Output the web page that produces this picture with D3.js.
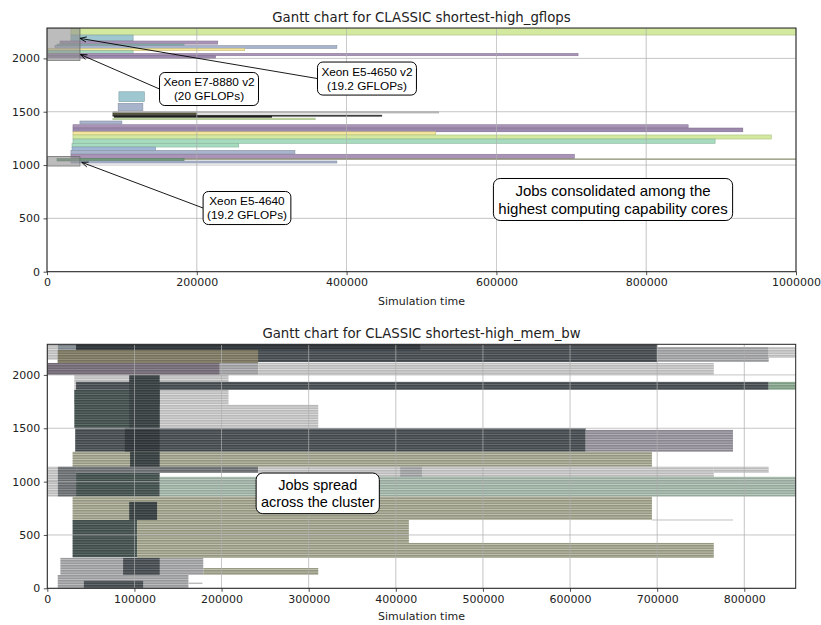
<!DOCTYPE html>
<html>
<head>
<meta charset="utf-8">
<script src="https://cdn.jsdelivr.net/npm/d3@7"></script>
<style>
  body { margin: 0; background: #fff; }
  svg { display: block; }
</style>
</head>
<body>
<svg id="chart" width="821" height="625"></svg>
<script>
// ---------------- Panel 1: shortest-high_gflops ----------------
// one entry per job block: start / end time, lowest / highest core, colour key
const gfStart  = [32000, 32000, 17400, 13400, 10700, 1300, 1300, 1300, 1300,
                  96000, 95000, 88000, 88000, 88000, 90000, 88000, 44000,
                  34700, 34700, 34700, 34700, 34700, 33400, 33400, 32000, 32000, 32000, 13400, 32000];
const gfEnd    = [1010000, 115000, 228000, 183000, 387000, 264000, 115000, 709000, 225000,
                  130000, 128000, 523000, 200000, 447000, 300000, 358000, 100000,
                  856000, 929000, 519000, 967000, 892000, 256000, 145000, 331000, 704000, 1010000, 183000, 387000];
const gfCoreLo = [2219, 2163, 2134, 2120, 2094, 2072, 2047, 2025, 2001,
                  1594, 1507, 1488, 1468, 1458, 1448, 1425, 1385,
                  1350, 1312, 1282, 1244, 1204, 1169, 1138, 1103, 1060, 1052, 1038, 1019];
const gfCoreHi = [2285, 2219, 2163, 2134, 2120, 2094, 2072, 2047, 2025,
                  1687, 1579, 1500, 1488, 1468, 1458, 1440, 1413,
                  1378, 1347, 1312, 1282, 1244, 1204, 1169, 1138, 1101, 1058, 1060, 1038];
const gfKind   = ["lime", "lightblue", "purple", "teal", "bluegray", "yellow", "mint", "purple", "purple2",
                  "lightblue", "bluegray", "lightgray", "olivedark", "dark", "black", "lightgreen", "bluegray",
                  "purple", "purple2", "yellow", "lime", "mint", "mint", "blue", "bluegray", "purple", "oliveline", "green", "bluegray"];

// highlighted node groups (start, end, core range)
const nodeStart = [0, 0];
const nodeEnd   = [44000, 44000];
const nodeLo    = [1982, 991];
const nodeHi    = [2285, 1079];

// ---------------- Panel 2: shortest-high_mem_bw ----------------
const bwStart = [0, 12000, 33000, 33000, 12000, 700000, 828000, 0, 198000, 242000,
                 31000, 33000, 828000, 31000, 129000, 94000, 32000, 618000, 89000,
                 29000, 95000, 0, 12000, 33000, 242000, 765000, 405000, 129000, 33000, 405000,
                 29000, 94000, 694000, 29000, 103000, 103000, 15000, 87000, 179000, 12000, 42000, 162000];
const bwEnd   = [12000, 33000, 700000, 428000, 242000, 828000, 859000, 198000, 242000, 765000,
                 208000, 828000, 859000, 129000, 311000, 129000, 618000, 787000, 129000,
                 694000, 129000, 12000, 33000, 242000, 765000, 828000, 430000, 859000, 129000, 527000,
                 694000, 126000, 787000, 103000, 415000, 765000, 179000, 129000, 311000, 162000, 110000, 178000];
const bwLo    = [2140, 1999, 2120, 2233, 2110, 2122, 2160, 1999, 1999, 1999,
                 1720, 1860, 1860, 1503, 1503, 1503, 1280, 1280, 1280,
                 1138, 1138, 860, 860, 1082, 1035, 1082, 950, 860, 860, 812,
                 640, 640, 636, 290, 425, 285, 125, 125, 125, 0, 0, 40];
const bwHi    = [2287, 2287, 2287, 2287, 2233, 2262, 2262, 2112, 2112, 2112,
                 1999, 1935, 1935, 1860, 1720, 1999, 1500, 1485, 1500,
                 1280, 1280, 1140, 1140, 1140, 1140, 1140, 1140, 1045, 1082, 824,
                 860, 810, 648, 640, 640, 425, 285, 285, 190, 125, 70, 55];
const bwTone  = ["light", "slate", "dark", "darkest", "khaki", "mid", "light", "purple", "mid", "light",
                 "light", "dark", "greenish", "darkslate", "light", "darkslate2", "dark", "purplegray", "darkest",
                 "olive", "darkslate2", "light", "gray", "gray", "light", "light", "mid", "teal", "darkslate", "light",
                 "olive", "darkslate2", "light", "darkslate", "olive", "olive", "mid", "dark", "olive", "mid", "dark", "light"];

// axis ticks
const gfTicksX = [0, 200000, 400000, 600000, 800000, 1000000];
const bwTicksX = [0, 100000, 200000, 300000, 400000, 500000, 600000, 700000, 800000];
const coreTicks = [0, 500, 1000, 1500, 2000];

// ---------------- styles ----------------
const jobColors = {
  lime: "#d3e9a0", lightblue: "#9ec7d0", purple: "#a994b8", purple2: "#9c87ad",
  teal: "#86b7ad", bluegray: "#a8b4cb", yellow: "#f5e79b", mint: "#a7dbbf",
  blue: "#a0b8d6", green: "#6f9a7a", lightgreen: "#c4e1a3", oliveline: "#a9ac8a",
  lightgray: "#c6c6c6", olivedark: "#5c5c44", dark: "#3c3c3c", black: "#151515"
};
const stripeTones = {
  light:      ["#b9b9b9", "#dcdcdc"],
  mid:        ["#96989a", "#c0c0c2"],
  gray:       ["#66696b", "#8d9092"],
  slate:      ["#7b838a", "#a2a8ac"],
  dark:       ["#41474b", "#676d71"],
  darkest:    ["#2c3235", "#4a5054"],
  darkslate:  ["#3e4b49", "#62706c"],
  darkslate2: ["#343c3d", "#525a5b"],
  khaki:      ["#75715c", "#98947e"],
  olive:      ["#94957e", "#c2c3b4"],
  purple:     ["#6d6570", "#8f8892"],
  purplegray: ["#8b8791", "#b4b0b8"],
  teal:       ["#94a99b", "#c0cdc3"],
  greenish:   ["#7c9a82", "#a6bca9"]
};

const FONT = "'DejaVu Sans', sans-serif";
const ANNO_FONT = "'Liberation Sans', Arial, sans-serif";

const svg = d3.select("#chart");
const defs = svg.append("defs");

// thin horizontal job outlines, drawn as a repeating stripe per tone
Object.entries(stripeTones).forEach(([k, [base, line]]) => {
  const p = defs.append("pattern").attr("id", "st-" + k)
    .attr("patternUnits", "userSpaceOnUse").attr("width", 10).attr("height", 2.5);
  p.append("rect").attr("width", 10).attr("height", 2.5).attr("fill", base);
  p.append("rect").attr("y", 1.6).attr("width", 10).attr("height", 0.9).attr("fill", line);
});

// ---------------- panel helpers ----------------
function makePanel(id, x, y, ticksX, title, titleY, labelY) {
  const [x0, x1] = x.range();
  const [yb, yt] = y.range();
  defs.append("clipPath").attr("id", "clip-" + id)
    .append("rect").attr("x", x0).attr("y", yt).attr("width", x1 - x0).attr("height", yb - yt);

  const g = svg.append("g");
  const marks = g.append("g").attr("clip-path", `url(#clip-${id})`);
  const grid = g.append("g");
  const axes = g.append("g");

  const drawGrid = () => {
    grid.selectAll("line.vx").data(ticksX).join("line").attr("class", "vx")
      .attr("x1", d => x(d)).attr("x2", d => x(d)).attr("y1", yt).attr("y2", yb)
      .attr("stroke", "#b0b0b0").attr("stroke-width", 0.8).attr("opacity", 0.9);
    grid.selectAll("line.hy").data(coreTicks).join("line").attr("class", "hy")
      .attr("y1", d => y(d)).attr("y2", d => y(d)).attr("x1", x0).attr("x2", x1)
      .attr("stroke", "#b0b0b0").attr("stroke-width", 0.8).attr("opacity", 0.9);
  };

  const xAxis = axes.append("g").attr("transform", `translate(0,${yb})`)
    .call(d3.axisBottom(x).tickValues(ticksX).tickFormat(d3.format("d"))
      .tickSize(3.5).tickPadding(3.5).tickSizeOuter(0));
  const yAxis = axes.append("g").attr("transform", `translate(${x0},0)`)
    .call(d3.axisLeft(y).tickValues(coreTicks).tickFormat(d3.format("d"))
      .tickSize(3.5).tickPadding(3.5).tickSizeOuter(0));
  [xAxis, yAxis].forEach(a => {
    a.select(".domain").remove();
    a.selectAll("line").attr("stroke", "#222").attr("stroke-width", 0.8);
    a.selectAll("text").attr("font-family", FONT).attr("font-size", 11).attr("fill", "#222");
  });
  axes.append("rect").attr("x", x0).attr("y", yt).attr("width", x1 - x0).attr("height", yb - yt)
    .attr("fill", "none").attr("stroke", "#222").attr("stroke-width", 1);

  svg.append("text").attr("x", (x0 + x1) / 2).attr("y", titleY).attr("text-anchor", "middle")
    .attr("font-family", FONT).attr("font-size", 13.3).attr("fill", "#222").text(title);
  svg.append("text").attr("x", (x0 + x1) / 2).attr("y", labelY).attr("text-anchor", "middle")
    .attr("font-family", FONT).attr("font-size", 11).attr("fill", "#222").text("Simulation time");

  return { g, marks, drawGrid };
}

function annotate(x, y, a) {
  const g = svg.append("g");
  const cx = x(a.x), cy = y(a.y);
  const fs = a.fs, lh = fs * 1.15;
  const arrowLayer = g.append("g");
  const box = g.append("rect");
  const txt = g.append("text").attr("font-family", ANNO_FONT).attr("font-size", fs)
    .attr("text-anchor", "middle").attr("fill", "#000");
  a.lines.forEach((l, i) => {
    txt.append("tspan").attr("x", cx)
      .attr("y", cy + (i - (a.lines.length - 1) / 2) * lh).attr("dy", "0.36em").text(l);
  });
  let w = 0;
  txt.selectAll("tspan").each(function () { w = Math.max(w, this.getComputedTextLength()); });
  const bw = w + 2 * 0.33 * fs, bh = a.lines.length * lh + 2 * 0.25 * fs;
  box.attr("x", cx - bw / 2).attr("y", cy - bh / 2).attr("width", bw).attr("height", bh)
    .attr("rx", 0.45 * fs).attr("fill", "#fff").attr("stroke", "#000").attr("stroke-width", 1);

  if (a.tx != null) {
    const sx = cx - bw / 2, sy = cy;
    const ex = x(a.tx), ey = y(a.ty);
    const ang = Math.atan2(ey - sy, ex - sx);
    arrowLayer.append("line").attr("x1", sx).attr("y1", sy).attr("x2", ex).attr("y2", ey)
      .attr("stroke", "#000").attr("stroke-width", 0.9);
    const hl = 7, ha = 0.38;
    const head = [ang + Math.PI - ha, ang + Math.PI + ha]
      .map(t => `M${ex},${ey}L${ex + hl * Math.cos(t)},${ey + hl * Math.sin(t)}`).join("");
    arrowLayer.append("path").attr("d", head).attr("stroke", "#000").attr("stroke-width", 0.9).attr("fill", "none");
  }
}

// ---------------- Panel 1 ----------------
const xG = d3.scaleLinear().domain([0, 1000000]).range([47, 796]);
const yG = d3.scaleLinear().domain([0, 2285]).range([271.7, 28]);
const p1 = makePanel("gf", xG, yG, gfTicksX, "Gantt chart for CLASSIC shortest-high_gflops", 22.3, 304.5);

const gfJobs = d3.range(gfStart.length).map(i => ({
  s: gfStart[i], e: gfEnd[i], lo: gfCoreLo[i], hi: gfCoreHi[i], k: gfKind[i]
}));
p1.marks.selectAll("rect.job").data(gfJobs).join("rect").attr("class", "job")
  .attr("x", d => xG(d.s)).attr("width", d => xG(d.e) - xG(d.s))
  .attr("y", d => yG(d.hi)).attr("height", d => yG(d.lo) - yG(d.hi))
  .attr("fill", d => jobColors[d.k])
  .attr("stroke", d => d3.color(jobColors[d.k]).darker(0.6))
  .attr("stroke-width", 0.6);

const nodes = d3.range(nodeStart.length).map(i => ({ s: nodeStart[i], e: nodeEnd[i], lo: nodeLo[i], hi: nodeHi[i] }));
p1.marks.selectAll("rect.node").data(nodes).join("rect").attr("class", "node")
  .attr("x", d => xG(d.s)).attr("width", d => xG(d.e) - xG(d.s))
  .attr("y", d => yG(d.hi)).attr("height", d => yG(d.lo) - yG(d.hi))
  .attr("fill", "#8f8f8f").attr("fill-opacity", 0.6)
  .attr("stroke", "#6a6a6a").attr("stroke-width", 0.8);
p1.drawGrid();

// ---------------- Panel 2 ----------------
const xB = d3.scaleLinear().domain([0, 859000]).range([47.3, 795.7]);
const yB = d3.scaleLinear().domain([0, 2287]).range([588.3, 344.3]);
const p2 = makePanel("bw", xB, yB, bwTicksX, "Gantt chart for CLASSIC shortest-high_mem_bw", 338.3, 620);

const bwJobs = d3.range(bwStart.length).map(i => ({
  s: bwStart[i], e: bwEnd[i], lo: bwLo[i], hi: bwHi[i], t: bwTone[i]
}));
p2.marks.selectAll("rect.job").data(bwJobs).join("rect").attr("class", "job")
  .attr("x", d => xB(d.s)).attr("width", d => xB(d.e) - xB(d.s))
  .attr("y", d => yB(d.hi)).attr("height", d => yB(d.lo) - yB(d.hi))
  .attr("fill", d => `url(#st-${d.t})`);
p2.drawGrid();

// ---------------- annotations ----------------
annotate(xG, yG, { lines: ["Xeon E7-8880 v2", "(20 GFLOPs)"], x: 216300, y: 1713, tx: 44700, ty: 2036, fs: 11.8 });
annotate(xG, yG, { lines: ["Xeon E5-4650 v2", "(19.2 GFLOPs)"], x: 427200, y: 1811, tx: 44000, ty: 2188, fs: 11.8 });
annotate(xG, yG, { lines: ["Xeon E5-4640", "(19.2 GFLOPs)"], x: 267000, y: 597, tx: 46300, ty: 1026, fs: 11.8 });
annotate(xG, yG, { lines: ["Jobs consolidated among the", "highest computing capability cores"], x: 755700, y: 677, fs: 15 });
annotate(xB, yB, { lines: ["Jobs spread", "across the cluster"], x: 310400, y: 890, fs: 14.5 });
</script>
</body>
</html>
